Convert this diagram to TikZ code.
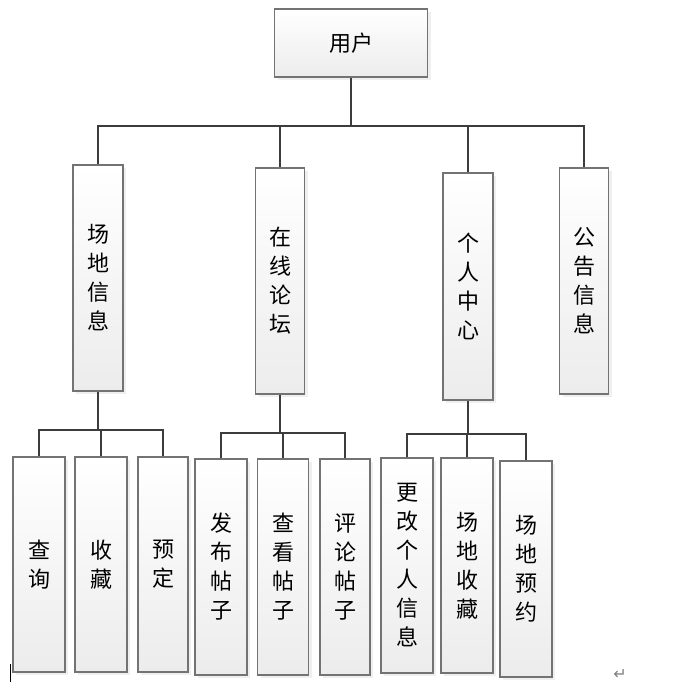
\documentclass[tikz,border=0pt]{standalone}
\usepackage{fontspec}
\newfontfamily\cjk{Noto Sans CJK SC}
\newfontfamily\symfont{DejaVu Sans}
\usetikzlibrary{positioning,shadows,calc}
\definecolor{frame}{RGB}{115,115,115}
\definecolor{wire}{RGB}{60,60,60}
\definecolor{shade}{RGB}{236,236,236}
\tikzset{
  box/.style={draw=frame,line width=1.1pt,top color=white,bottom color=shade,
    inner sep=0pt,align=center,font=\cjk\fontsize{22}{29}\selectfont,
    drop shadow={opacity=0.12,shadow xshift=3pt,shadow yshift=-3pt}},
  link/.style={draw=wire,line width=2pt},
}

\begin{document}
\begin{tikzpicture}[x=1pt,y=-1pt]
  \useasboundingbox[fill=white] (0,0) rectangle (688,694);

  % top
  \node[box,minimum width=153pt,minimum height=68pt] (user) at (351,43) {用户};

  % second level
  \foreach \t/\x/\y/\w/\h [count=\i] in {
    {场\\地\\信\\息}/98/278/50/226,
    {在\\线\\论\\坛}/280/281/49/226,
    {个\\人\\中\\心}/468/286.5/50/227,
    {公\\告\\信\\息}/584/281/49/226}
    \node[box,minimum width=\w pt,minimum height=\h pt] (m\i) at (\x,\y) {\t};

  % third level
  \foreach \t/\x/\y/\w/\h/\n in {
    {查\\询}/39/564.5/52/215/s11,
    {收\\藏}/101/564.5/52/215/s12,
    {预\\定}/163/564.5/50/215/s13,
    {发\\布\\帖\\子}/221/567/52/216/s21,
    {查\\看\\帖\\子}/283/567/51/216/s22,
    {评\\论\\帖\\子}/345/567/50/216/s23,
    {更\\改\\个\\人\\信\\息}/407/565.5/52/215/s31,
    {场\\地\\收\\藏}/467/565.5/52/215/s32,
    {场\\地\\预\\约}/526/569/52/216/s33}
    \node[box,minimum width=\w pt,minimum height=\h pt] (\n) at (\x,\y) {\t};

  % connectors
  \coordinate (bus0) at (0,126);
  \coordinate (bus1) at (0,430);
  \coordinate (bus2) at (0,433);
  \coordinate (bus3) at (0,434);
  \draw[link] (user.south) -- (user.south |- bus0);
  \draw[link] (m1.north) |- (m4.north |- bus0) -- (m4.north);
  \foreach \i in {2,3} \draw[link] (m\i.north) -- (m\i.north |- bus0);
  \foreach \g in {1,2,3} {
    \draw[link] (m\g.south) -- (m\g.south |- bus\g);
    \draw[link] (s\g1.north) |- (s\g3.north |- bus\g) -- (s\g3.north);
    \draw[link] (s\g2.north) -- (s\g2.north |- bus\g);
  }

  % page marks
  \coordinate (cur) at (10,664);
  \draw[black,line width=1pt] (cur) -- ++(0,18);
  \node[text=gray,font=\symfont\fontsize{16}{16}\selectfont] (ret) at (620,674) {↵};
\end{tikzpicture}
\end{document}
